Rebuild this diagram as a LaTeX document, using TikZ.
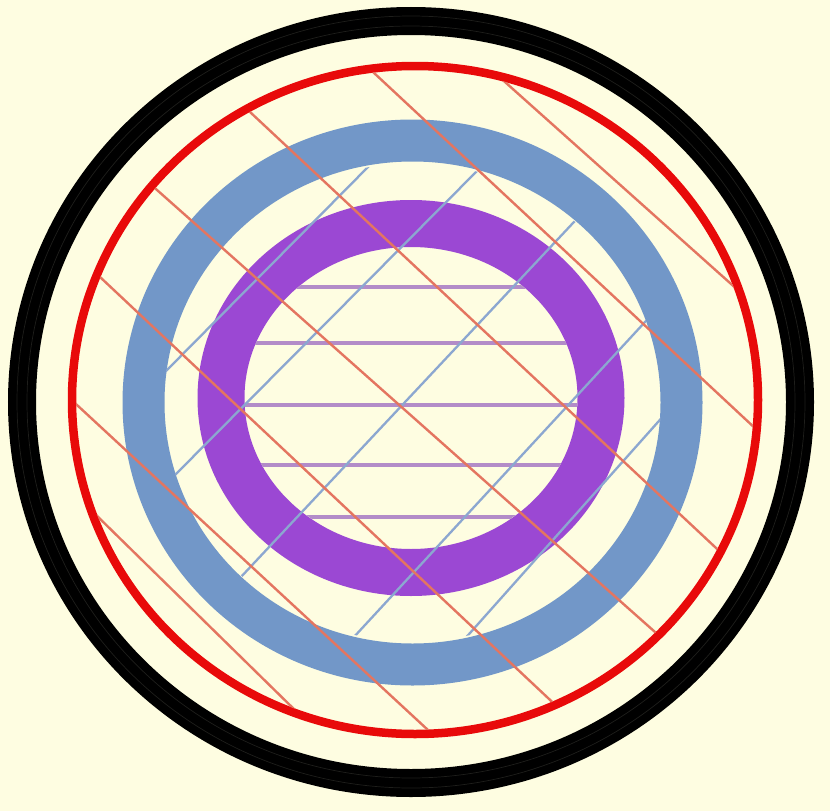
\documentclass[tikz,border=0pt]{standalone}
\usetikzlibrary{calc}
\definecolor{bgyellow}{HTML}{FEFDE1}
\definecolor{ringblue}{HTML}{7297C8}
\definecolor{ringpurple}{HTML}{9B48D3}
\definecolor{ringred}{HTML}{E80A0A}
\definecolor{hatchred}{HTML}{E47560}
\definecolor{hatchblue}{HTML}{8CA7D0}
\definecolor{hatchpurple}{HTML}{B38CC8}
\tikzset{
  outerring/.style={draw=black, line width=28pt},
  ringstripe/.style={draw=black!88!bgyellow, line width=0.7pt},
  redring/.style={draw=ringred, line width=8.5pt},
  bluering/.style={draw=ringblue, line width=42pt},
  purplering/.style={draw=ringpurple, line width=47pt},
  redhatch/.style={draw=hatchred, line width=2.4pt},
  bluehatch/.style={draw=hatchblue, line width=2.3pt},
  purplehatch/.style={draw=hatchpurple, line width=3.6pt}
}
\begin{document}
\begin{tikzpicture}[x=1pt, y=-1pt]
    \fill[bgyellow] (0,0) rectangle (830,811);
    \useasboundingbox (0,0) rectangle (830,811);

    \draw[outerring] (411,402) ellipse [x radius=389pt, y radius=381pt];
    \draw[ringstripe] (411,402) ellipse [x radius=384pt, y radius=376pt];
    \draw[ringstripe] (411,402) ellipse [x radius=394pt, y radius=386pt];
    \draw[redring] (415,400) ellipse [x radius=343pt, y radius=334pt];
    \draw[bluering] (412.5,402.5) ellipse [x radius=269pt, y radius=262pt];
    \draw[purplering] (411,398) ellipse [x radius=190pt, y radius=174.5pt];

    \begin{scope}
        \clip (411,398) ellipse [x radius=166.5pt, y radius=150.5pt];
        \foreach \ly in {287,343,405,465,517}
            \draw[purplehatch] (200,\ly) -- (620,\ly);
    \end{scope}

    \begin{scope}
        \clip (412.5,402.5) ellipse [x radius=248.5pt, y radius=239pt];
        \foreach \ax/\ay/\bx/\by in {167/370/370/165, 173/477/478/170, 240/578/573/223,
                                     353/638/645/322, 462/642/658/422}
            \draw[bluehatch] ($(\ax,\ay)!-0.3!(\bx,\by)$) -- ($(\ax,\ay)!1.3!(\bx,\by)$);
    \end{scope}

    \begin{scope}
        \clip (415,400) ellipse [x radius=339pt, y radius=330pt];
        \foreach \ax/\ay/\bx/\by in {505/82/730/283, 373/72/757/430, 250/112/715/547,
                                     157/190/655/632, 100/277/548/698, 77/405/415/718,
                                     93/512/300/715}
            \draw[redhatch] ($(\ax,\ay)!-0.3!(\bx,\by)$) -- ($(\ax,\ay)!1.3!(\bx,\by)$);
    \end{scope}
\end{tikzpicture}
\end{document}
